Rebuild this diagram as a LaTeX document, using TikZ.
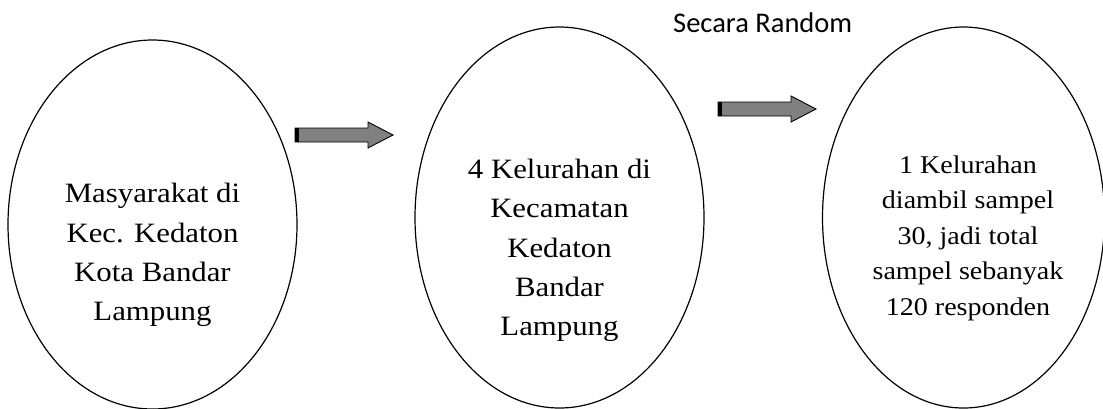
\documentclass[tikz,border=0pt]{standalone}
\usepackage{fontspec}
\setmainfont[FakeStretch=1.1]{Liberation Serif}
\newfontfamily\calib{Carlito}
\usetikzlibrary{shapes.geometric}
\definecolor{arrowgray}{RGB}{128,128,128}
\tikzset{
  oval/.style={ellipse, draw, line width=1.2pt, inner sep=0pt},
  lbl/.style={align=center, inner sep=0pt, font=\fontsize{28}{39.3}\selectfont},
  lblsmall/.style={align=center, inner sep=0pt, font=\fontsize{25.5}{35.5}\selectfont},
  blockarrow/.pic={
    \filldraw[fill=arrowgray, draw=black, line width=0.9pt, line join=miter]
      (0,-7) -- (73,-7) -- (73,-13) -- (98,0) -- (73,13) -- (73,7) -- (0,7) -- cycle;
    \fill[black] (0,-7.4) rectangle (4,7.4);
  }
}
\begin{document}
\begin{tikzpicture}[x=1pt,y=-1pt]
\useasboundingbox (0,0) rectangle (1103,408);
\fill[white] (0,0) rectangle (1103,408);

\node[oval, minimum width=289pt, minimum height=369pt] (e1) at (152.5,224.5) {};
\node[lbl] (t1) at (152.5,255) {Masyarakat di\\Kec. Kedaton\\Kota Bandar\\Lampung};

\node[oval, minimum width=289pt, minimum height=381pt] (e2) at (559.5,217.5) {};
\node[lbl] (t2) at (559.5,250.5) {4 Kelurahan di\\Kecamatan\\Kedaton\\Bandar\\Lampung};

\node[oval, minimum width=282pt, minimum height=381pt] (e3) at (963.5,217.5) {};
\node[lblsmall] (t3) at (968,238) {1 Kelurahan\\diambil sampel\\30, jadi total\\sampel sebanyak\\120 responden};

\pic (a1) at (295,135) {blockarrow};
\pic (a2) at (718,109) {blockarrow};

\node[font=\calib\fontsize{28.5}{34}\selectfont, anchor=base west, inner sep=0pt] (sr) at (673,32) {Secara Random};
\end{tikzpicture}
\end{document}
